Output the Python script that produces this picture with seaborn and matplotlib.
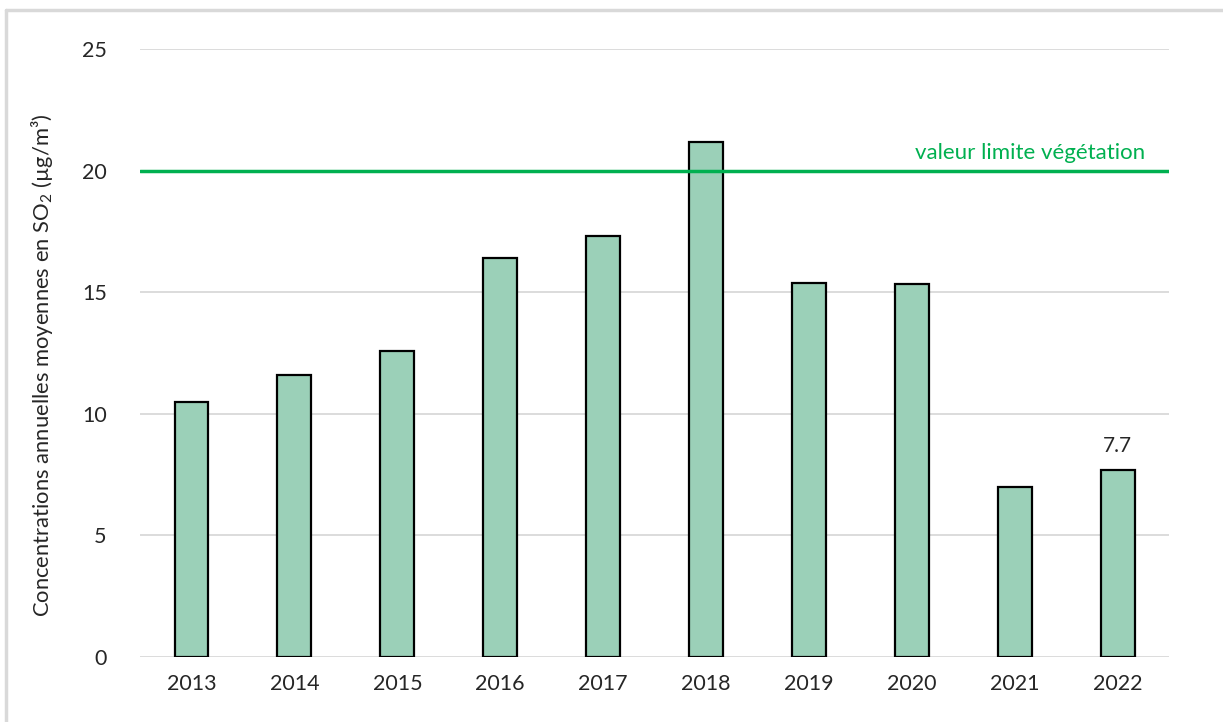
import matplotlib
matplotlib.use("Agg")
import matplotlib.pyplot as plt
import seaborn as sns
import pandas as pd
from matplotlib.lines import Line2D

# Annual mean SO2 concentrations
years = ["2013", "2014", "2015", "2016", "2017", "2018", "2019", "2020", "2021", "2022"]
values = [10.5, 11.6, 12.6, 16.4, 17.3, 21.2, 15.4, 15.35, 7.0, 7.7]
limit_value = 20
limit_label = "valeur limite végétation"
y_ticks = [0, 5, 10, 15, 20, 25]

df = pd.DataFrame({"year": years, "so2": values})

sns.set_style("white")
plt.rcParams["font.family"] = ["Lato", "DejaVu Sans"]
plt.rcParams["mathtext.fontset"] = "custom"
plt.rcParams["mathtext.rm"] = "Lato"
plt.rcParams["mathtext.it"] = "Lato:italic"

text_color = "#262626"
grid_color = "#D9D9D9"
green = "#00B050"

fig = plt.figure(figsize=(12.23, 7.22), dpi=100)
ax = fig.add_axes([0.1145, 0.09, 0.8415, 0.842])

sns.barplot(data=df, x="year", y="so2", color="#9BD0B8", saturation=1,
            edgecolor="black", linewidth=1.6, width=0.33, ax=ax, zorder=3)

ax.axhline(limit_value, color=green, linewidth=2.5, zorder=4)
ax.text(9.27, limit_value + 0.3, limit_label, color=green, fontsize=16,
        ha="right", va="bottom")

# label on the last bar only
ax.text(9, values[-1] + 0.55, f"{values[-1]:.1f}", ha="center", va="bottom",
        fontsize=15, color=text_color)

ax.set_ylim(0, 25)
ax.set_xlim(-0.5, 9.5)
ax.set_yticks(y_ticks)
ax.yaxis.grid(True, color=grid_color, linewidth=1.3, zorder=0)
ax.set_axisbelow(True)
for s in ax.spines.values():
    s.set_visible(False)
ax.tick_params(axis="both", length=0, labelsize=15.5, colors=text_color)
ax.tick_params(axis="y", pad=24)
ax.tick_params(axis="x", pad=12)
ax.set_xlabel("")
ax.set_ylabel(r"Concentrations annuelles moyennes en SO$_2$ (µg/m³)",
              fontsize=15.8, color=text_color, labelpad=14)
ax.yaxis.set_label_coords(-0.083, 0.48)

# light frame on the left and top edges, like the screenshot
fig.add_artist(Line2D([0.005, 0.005], [0.0, 0.986], color=grid_color, linewidth=2.5,
                      transform=fig.transFigure))
fig.add_artist(Line2D([0.005, 1.0], [0.986, 0.986], color=grid_color, linewidth=2.5,
                      transform=fig.transFigure))

fig.savefig("out.png", dpi=100)
